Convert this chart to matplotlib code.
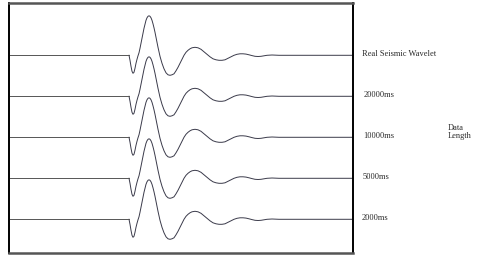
import numpy as np
import matplotlib.pyplot as plt
import matplotlib.transforms as mtransforms

# ── Data ──────────────────────────────────────────────────────────────────────
# Wavelet: sample index vs amplitude (arbitrary units)
wave_t = [0, 120, 121, 122, 123, 124, 125, 126, 127, 128, 129, 130, 131, 132,
          133, 134, 135, 136, 137, 138, 139, 140, 141, 142, 143, 144, 145, 146,
          147, 148, 149, 150, 151, 153, 155, 157, 159, 161, 163, 165, 167, 169,
          171, 173, 175, 177, 179, 181, 183, 186, 189, 192, 195, 198, 201, 204,
          207, 210, 213, 216, 219, 222, 225, 228, 231, 234, 237, 240, 243, 246,
          249, 252, 255, 258, 263, 270, 344]
wave_a = [0, 0, -5, -11, -16, -18, -17, -13, -8, -4, -0.5, 2.5, 7, 12, 17, 22,
          27, 31, 35, 37.5, 39, 39.5, 39, 37.5, 35, 31.5, 27.5, 23, 18, 13,
          8, 3.5, -1, -8, -13.5, -17.5, -19.5, -20, -19.5, -18.5, -15.5, -12,
          -8, -4, 0, 3, 5, 6.5, 7.5, 8, 7.5, 6, 3.5, 1, -1.5, -3.5, -4.5, -5,
          -5, -4.5, -3, -1.5, 0, 1, 1.5, 1.5, 1.2, 0.5, -0.3, -1, -1.2, -1,
          -0.5, 0, 0.3, 0, 0]

labels = ["Real Seismic Wavelet", "20000ms", "10000ms", "5000ms", "2000ms"]
offsets = [164, 123, 82, 41, 0]

# ── Figure ────────────────────────────────────────────────────────────────────
fig = plt.figure(figsize=(4.79, 2.60), dpi=100)
ax = fig.add_axes([9 / 479, 7 / 260, 344 / 479, 250 / 260])

t = np.array(wave_t, dtype=float)
a = np.array(wave_a, dtype=float)
for off in offsets:
    ax.plot(t[1:], a[1:] + off, color="#3a3a4a", lw=0.7)
    ax.plot([1, t[1]], [off, off], color="#555555", lw=0.7)

ax.set_xlim(0, 344)
ax.set_ylim(-33.7, 216.3)
ax.set_xticks([])
ax.set_yticks([])
for side in ["left", "right"]:
    ax.spines[side].set_color("black")
    ax.spines[side].set_linewidth(1.4)
for side in ["top", "bottom"]:
    ax.spines[side].set_color("#555555")
    ax.spines[side].set_linewidth(1.8)

trans = mtransforms.blended_transform_factory(ax.transAxes, ax.transData)
txt_kw = dict(fontsize=6, family="Liberation Serif", color="#2a2a2a",
              va="center", ha="left", transform=trans, clip_on=False)
label_x = [1.026, 1.031, 1.031, 1.029, 1.026]
for lab, off, lx in zip(labels, offsets, label_x):
    ax.text(lx, off + 1.5, lab, **txt_kw)

fig.text(448 / 479, 1 - 132 / 260, "Data\nLength", fontsize=6,
         family="Liberation Serif", color="#2a2a2a", va="center", ha="left",
         linespacing=1.1)

fig.savefig("out.png", dpi=100)
